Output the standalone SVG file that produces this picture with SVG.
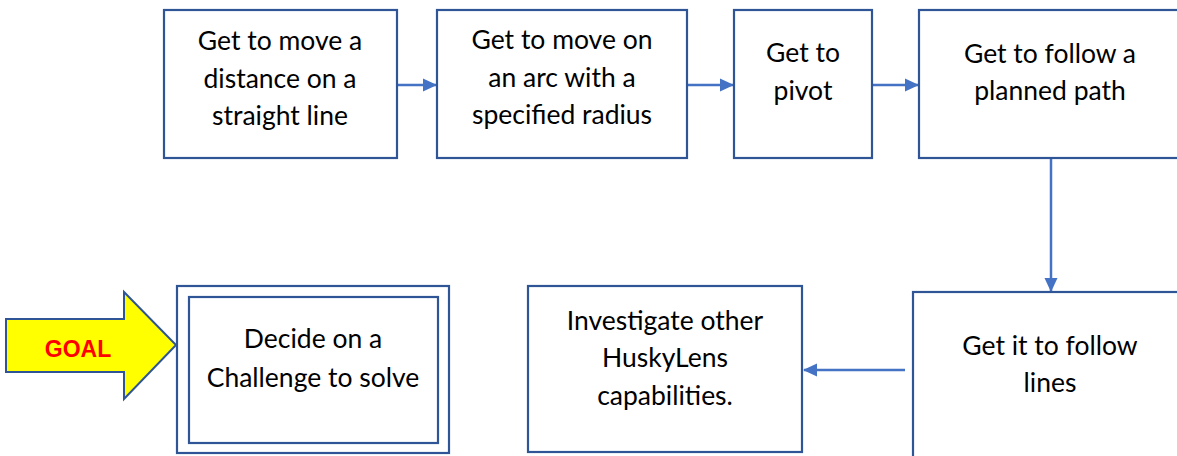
<svg xmlns="http://www.w3.org/2000/svg" width="1177" height="456" viewBox="0 0 1177 456">
<style>
.box{fill:#fff;stroke:#2F5597;stroke-width:2.2}
.t{font-family:Lato,"Open Sans",sans-serif;font-size:26.5px;fill:#000;text-anchor:middle}
.c{stroke:#4472C4;stroke-width:2.5;fill:none}
</style>
<defs>
<marker id="ah" markerWidth="14" markerHeight="14" refX="13" refY="7" orient="auto" markerUnits="userSpaceOnUse" viewBox="0 0 14 14">
<path d="M0,0.5 L14,7 L0,13.5 z" fill="#4472C4"/>
</marker>
</defs>
<rect width="1177" height="456" fill="#fff"/>
<g id="connectors">
<line class="c" x1="397" y1="85" x2="436" y2="85" marker-end="url(#ah)"/>
<line class="c" x1="687" y1="85" x2="733" y2="85" marker-end="url(#ah)"/>
<line class="c" x1="872" y1="85" x2="918" y2="85" marker-end="url(#ah)"/>
<line class="c" x1="1051" y1="158" x2="1051" y2="291" marker-end="url(#ah)"/>
<line class="c" x1="905" y1="370" x2="804" y2="370" marker-end="url(#ah)"/>
</g>
<g id="n1">
<rect class="box" x="164" y="10" width="233" height="148"/>
<text class="t" x="280" y="50">Get to move a</text>
<text class="t" x="280" y="88">distance on a</text>
<text class="t" x="280" y="125">straight line</text>
</g>
<g id="n2">
<rect class="box" x="437" y="10" width="250" height="148"/>
<text class="t" x="562" y="49">Get to move on</text>
<text class="t" x="562" y="87">an arc with a</text>
<text class="t" x="562" y="124">specified radius</text>
</g>
<g id="n3">
<rect class="box" x="734" y="10" width="138" height="148"/>
<text class="t" x="803" y="62">Get to</text>
<text class="t" x="803" y="100">pivot</text>
</g>
<g id="n4">
<rect class="box" x="919" y="10" width="270" height="148"/>
<text class="t" x="1050" y="63">Get to follow a</text>
<text class="t" x="1050" y="100">planned path</text>
</g>
<g id="n5">
<rect class="box" x="913" y="292" width="280" height="180"/>
<text class="t" x="1050" y="355">Get it to follow</text>
<text class="t" x="1050" y="392">lines</text>
</g>
<g id="n6">
<rect class="box" x="528" y="286" width="274" height="166"/>
<text class="t" x="665" y="330">Investigate other</text>
<text class="t" x="665" y="367">HuskyLens</text>
<text class="t" x="665" y="405">capabilities.</text>
</g>
<g id="n7">
<rect class="box" x="177" y="286" width="272" height="167"/>
<rect class="box" x="189" y="297" width="249" height="146"/>
<text class="t" x="313" y="348">Decide on a</text>
<text class="t" x="313" y="387">Challenge to solve</text>
</g>
<g id="goal">
<path d="M6,319 L124,319 L124,292 L176,345 L124,399 L124,372 L6,372 Z" fill="#FFFF00" stroke="#2F5597" stroke-width="2"/>
<text x="78" y="357" font-family="'Liberation Sans',Arial,sans-serif" font-weight="bold" font-size="23" fill="#FF0000" text-anchor="middle">GOAL</text>
</g>
</svg>
